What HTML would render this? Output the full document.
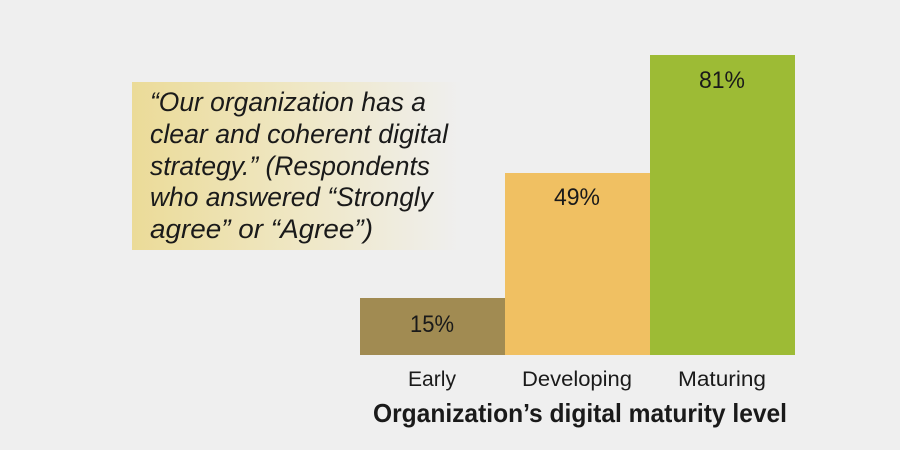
<!DOCTYPE html>
<html><head><style>
html,body{margin:0;padding:0;background:#efefef;}
</style></head><body>
<svg width="900" height="450" xmlns="http://www.w3.org/2000/svg" style="display:block">
<defs>
<linearGradient id="g" x1="0" x2="1" y1="0" y2="0">
<stop offset="0" stop-color="#ebdb98"/>
<stop offset="0.5" stop-color="#efe7c4"/>
<stop offset="1" stop-color="#efefef"/>
</linearGradient>
</defs>
<rect width="900" height="450" fill="#efefef"/>
<rect x="132" y="82" width="330" height="168" fill="url(#g)"/>
<g font-family="Liberation Sans, sans-serif" font-style="italic" font-size="27" fill="#1a1a1a">
<text x="150" y="111" textLength="276" lengthAdjust="spacingAndGlyphs">“Our organization has a</text>
<text x="150" y="143" textLength="298" lengthAdjust="spacingAndGlyphs">clear and coherent digital</text>
<text x="150" y="175" textLength="280" lengthAdjust="spacingAndGlyphs">strategy.” (Respondents</text>
<text x="150" y="206" textLength="283" lengthAdjust="spacingAndGlyphs">who answered “Strongly</text>
<text x="150" y="238" textLength="223" lengthAdjust="spacingAndGlyphs">agree” or “Agree”)</text>
</g>
<rect x="360" y="298" width="145" height="57" fill="#a18b52"/>
<rect x="505" y="173" width="145" height="182" fill="#f0c062"/>
<rect x="650" y="55" width="145" height="300" fill="#9dbb35"/>
<g font-family="Liberation Sans, sans-serif" font-size="24" fill="#1a1a1a" text-anchor="middle">
<text x="432" y="332" textLength="44" lengthAdjust="spacingAndGlyphs">15%</text>
<text x="577" y="205" textLength="46" lengthAdjust="spacingAndGlyphs">49%</text>
<text x="722" y="88" textLength="46" lengthAdjust="spacingAndGlyphs">81%</text>
</g>
<g font-family="Liberation Sans, sans-serif" font-size="21" fill="#1a1a1a" text-anchor="middle">
<text x="432" y="386" textLength="48" lengthAdjust="spacingAndGlyphs">Early</text>
<text x="577" y="386" textLength="110" lengthAdjust="spacingAndGlyphs">Developing</text>
<text x="722" y="386" textLength="88" lengthAdjust="spacingAndGlyphs">Maturing</text>
</g>
<text x="580" y="422" font-family="Liberation Sans, sans-serif" font-weight="bold" font-size="26" fill="#1a1a1a" text-anchor="middle" textLength="414" lengthAdjust="spacingAndGlyphs">Organization’s digital maturity level</text>
</svg>
</body></html>
